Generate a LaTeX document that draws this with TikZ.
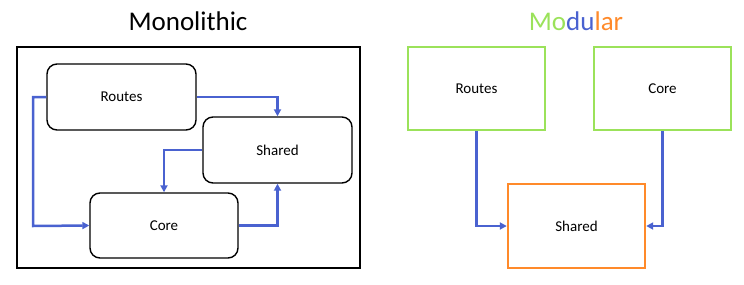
\documentclass[tikz,border=0pt]{standalone}
\usepackage{fontspec}
\setmainfont{Carlito}
\usetikzlibrary{arrows.meta}
\definecolor{arrblue}{HTML}{4A62D0}
\definecolor{modgreen}{HTML}{9BE25A}
\definecolor{modorange}{HTML}{FF8A2A}
\tikzset{
  rbox/.style={draw=black, line width=1.4pt, rounded corners=10pt, inner sep=0pt, font=\fontsize{15}{18}\selectfont},
  gbox/.style={draw=modgreen, line width=2.4pt, inner sep=0pt, font=\fontsize{15}{18}\selectfont},
  obox/.style={draw=modorange, line width=2.4pt, inner sep=0pt, font=\fontsize{15}{18}\selectfont},
  conn/.style={draw=arrblue, line width=2.5pt, -{Triangle[length=7pt,width=7pt]}},
  ttl/.style={font=\fontsize{27}{32}\selectfont, inner sep=0pt}
}
\begin{document}
\begin{tikzpicture}[x=1pt,y=-1pt]
\useasboundingbox (0,0) rectangle (744,284);
% Monolithic
\node[ttl] (mtitle) at (188,21) {Monolithic};
\node[draw=black, line width=2.2pt, minimum width=343pt, minimum height=221pt, inner sep=0pt] (frame) at (188.5,157.5) {};
\node[rbox, minimum width=149pt, minimum height=66pt] (mroutes) at (121.5,97) {Routes};
\node[rbox, minimum width=149pt, minimum height=66pt] (mshared) at (277.5,150) {Shared};
\node[rbox, minimum width=148pt, minimum height=65pt] (mcore) at (164,225.5) {Core};
\coordinate (c1) at (33,97);
\coordinate (c2) at (33,226);
\draw[conn] (mroutes.west) -- (c1) -- (c2) -- (mcore.west);
\draw[conn] (mroutes.east) -| (mshared.north);
\draw[conn] (mshared.west) -| (mcore.north);
\draw[conn] (mcore.east) -| (mshared.south);
% Modular
\node[ttl] (otitle) at (576,21) {\textcolor{modgreen}{Mo}\textcolor{arrblue}{du}\textcolor{modorange}{lar}};
\node[gbox, minimum width=137pt, minimum height=83pt] (oroutes) at (476.5,88.5) {Routes};
\node[gbox, minimum width=137pt, minimum height=83pt] (ocore) at (662.5,88.5) {Core};
\node[obox, minimum width=137pt, minimum height=84pt] (oshared) at (576.5,226) {Shared};
\draw[conn] (oroutes.south) |- (oshared.west);
\draw[conn] (ocore.south) |- (oshared.east);
\end{tikzpicture}
\end{document}
